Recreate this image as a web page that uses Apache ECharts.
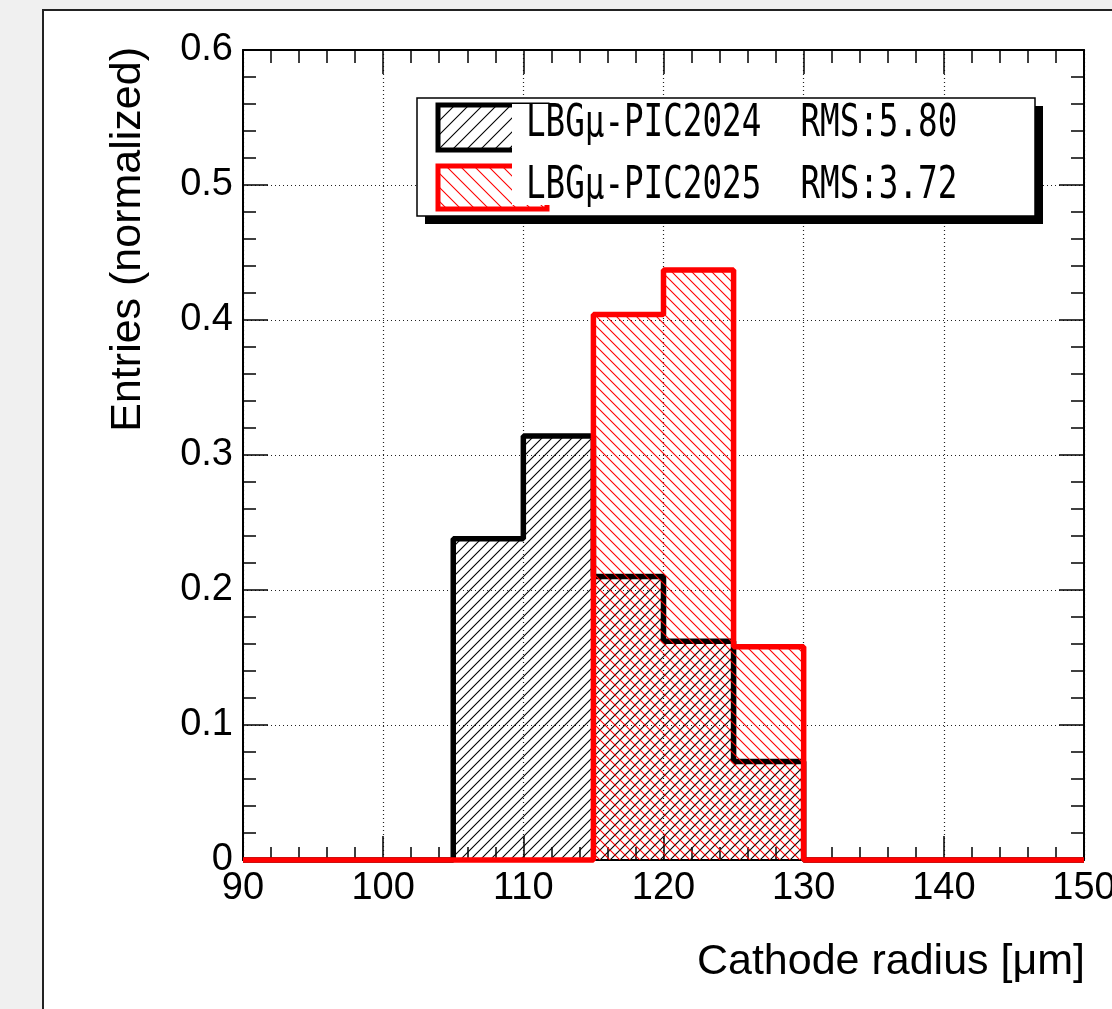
<!DOCTYPE html>
<html>
<head>
<meta charset="utf-8">
<script src="https://cdn.jsdelivr.net/npm/echarts@6/dist/echarts.min.js"></script>
<style>
html,body{margin:0;padding:0;background:#f0f0f0;overflow:hidden;}
#c{width:1112px;height:1009px;}
</style>
</head>
<body>
<div id="c"></div>
<script>
// ---- data ----
const binLowEdges = [90, 95, 100, 105, 110, 115, 120, 125, 130, 135, 140, 145];
const binUpper = 150;
const h2024 = [0, 0, 0, 0.238, 0.314, 0.210, 0.162, 0.073, 0, 0, 0, 0];
const h2025 = [0, 0, 0, 0, 0, 0.404, 0.437, 0.158, 0, 0, 0, 0];
const seriesNames = ['LBGμ-PIC2024', 'LBGμ-PIC2025'];
const rmsValues = ['5.80', '3.72'];
const xTickLabels = ['90', '100', '110', '120', '130', '140', '150'];
const yTickLabels = ['0', '0.1', '0.2', '0.3', '0.4', '0.5', '0.6'];
const xTitle = 'Cathode radius [μm]';
const yTitle = 'Entries (normalized)';

function stepData(h) {
  const d = binLowEdges.map((b, i) => [b, h[i]]);
  d.push([binUpper, h[h.length - 1]]);
  return d;
}

function makeHatch(color, forward, s, lw) {
  const c = document.createElement('canvas');
  c.width = s; c.height = s;
  const ctx = c.getContext('2d');
  ctx.strokeStyle = color;
  ctx.lineWidth = lw;
  ctx.beginPath();
  if (forward) {
    ctx.moveTo(0, s); ctx.lineTo(s, 0);
    ctx.moveTo(-1, 1); ctx.lineTo(1, -1);
    ctx.moveTo(s - 1, s + 1); ctx.lineTo(s + 1, s - 1);
  } else {
    ctx.moveTo(0, 0); ctx.lineTo(s, s);
    ctx.moveTo(s - 1, -1); ctx.lineTo(s + 1, 1);
    ctx.moveTo(-1, s - 1); ctx.lineTo(1, s + 1);
  }
  ctx.stroke();
  return c;
}

const hatchBlack = makeHatch('#000', true, 10, 1.1);
const hatchRed = makeHatch('#ff0000', false, 10, 1.1);

const chart = echarts.init(document.getElementById('c'), null, {width: 1112, height: 1009});
const labelFont = {fontFamily: 'Liberation Sans', fontSize: 38, color: '#000'};

const gridLine = {show: true, lineStyle: {color: '#222', width: 1.2, type: [1, 3]}};

const option = {
  backgroundColor: '#f0f0f0',
  animation: false,
  grid: {left: 243, top: 50, right: 28, bottom: 149, containLabel: false, outerBoundsMode: 'none'},
  xAxis: [{
    type: 'value', min: 90, max: 150, interval: 10,
    axisLine: {show: true, onZero: false, lineStyle: {color: '#000', width: 2}},
    axisTick: {show: true, inside: true, length: 24, lineStyle: {color: '#000', width: 1.5}},
    minorTick: {show: true, splitNumber: 5, length: 13, lineStyle: {color: '#000', width: 1.5}},
    axisLabel: Object.assign({margin: 10, hideOverlap: false, formatter: v => xTickLabels[Math.round((v - 90) / 10)]}, labelFont),
    splitLine: gridLine
  }, {
    type: 'value', min: 90, max: 150, interval: 10, position: 'top',
    axisLine: {show: true, onZero: false, lineStyle: {color: '#000', width: 2}},
    axisTick: {show: true, inside: true, length: 24, lineStyle: {color: '#000', width: 1.5}},
    minorTick: {show: true, splitNumber: 5, length: 13, lineStyle: {color: '#000', width: 1.5}},
    axisLabel: {show: false},
    splitLine: {show: false}
  }],
  yAxis: [{
    type: 'value', min: 0, max: 0.6, interval: 0.1,
    axisLine: {show: true, onZero: false, lineStyle: {color: '#000', width: 2}},
    axisTick: {show: true, inside: true, length: 25, lineStyle: {color: '#000', width: 1.5}},
    minorTick: {show: true, splitNumber: 5, length: 13, lineStyle: {color: '#000', width: 1.5}},
    axisLabel: Object.assign({margin: 10, formatter: v => yTickLabels[Math.round(v * 10)]}, labelFont),
    splitLine: gridLine
  }, {
    type: 'value', min: 0, max: 0.6, interval: 0.1, position: 'right',
    axisLine: {show: true, onZero: false, lineStyle: {color: '#000', width: 2}},
    axisTick: {show: true, inside: true, length: 25, lineStyle: {color: '#000', width: 1.5}},
    minorTick: {show: true, splitNumber: 5, length: 13, lineStyle: {color: '#000', width: 1.5}},
    axisLabel: {show: false},
    splitLine: {show: false}
  }],
  series: [{
    name: seriesNames[0], type: 'line', step: 'end', symbol: 'none', clip: false,
    data: stepData(h2024),
    lineStyle: {color: '#000', width: 5.5},
    areaStyle: {color: {image: hatchBlack, repeat: 'repeat'}, opacity: 1},
    z: 3
  }, {
    name: seriesNames[1], type: 'line', step: 'end', symbol: 'none', clip: false,
    data: stepData(h2025),
    lineStyle: {color: '#ff0000', width: 5.5},
    areaStyle: {color: {image: hatchRed, repeat: 'repeat'}, opacity: 1},
    z: 4
  }],
  graphic: [
    {type: 'rect', z: -100, shape: {x: 43, y: 10, width: 1200, height: 1200},
     style: {fill: '#fff', stroke: '#222', lineWidth: 2}, silent: true},
    {type: 'text', z: 10, x: 128, y: 47, rotation: Math.PI / 2,
     style: {text: yTitle, fontFamily: 'Liberation Sans', fontSize: 43, fill: '#000', align: 'right', verticalAlign: 'middle'}},
    {type: 'text', z: 10, x: 1085, y: 962,
     style: {text: xTitle, fontFamily: 'Liberation Sans', fontSize: 43, fill: '#000', align: 'right', verticalAlign: 'middle'}},
    // legend
    {type: 'rect', z: 100, shape: {x: 425, y: 106, width: 618, height: 118}, style: {fill: '#000'}},
    {type: 'rect', z: 101, shape: {x: 417, y: 98, width: 618, height: 118}, style: {fill: '#fff', stroke: '#000', lineWidth: 1.5}},
    {type: 'rect', z: 102, shape: {x: 438, y: 105, width: 109, height: 45}, style: {fill: {image: makeHatch('#000', true, 14, 1.1), repeat: 'repeat'}, stroke: '#000', lineWidth: 5}},
    {type: 'rect', z: 102, shape: {x: 438, y: 166, width: 109, height: 43}, style: {fill: {image: makeHatch('#ff0000', false, 14, 1.1), repeat: 'repeat'}, stroke: '#ff0000', lineWidth: 5}},
    {type: 'rect', z: 103, shape: {x: 512, y: 104, width: 42, height: 101}, style: {fill: '#fff'}},
    {type: 'text', z: 104, x: 526, y: 125, scaleX: 0.74,
     style: {text: seriesNames[0] + '  RMS:' + rmsValues[0], fontFamily: 'DejaVu Sans Mono', fontSize: 44, fill: '#000', align: 'left', verticalAlign: 'middle'}},
    {type: 'text', z: 104, x: 526, y: 187, scaleX: 0.74,
     style: {text: seriesNames[1] + '  RMS:' + rmsValues[1], fontFamily: 'DejaVu Sans Mono', fontSize: 44, fill: '#000', align: 'left', verticalAlign: 'middle'}}
  ]
};
chart.setOption(option);
</script>
</body>
</html>
